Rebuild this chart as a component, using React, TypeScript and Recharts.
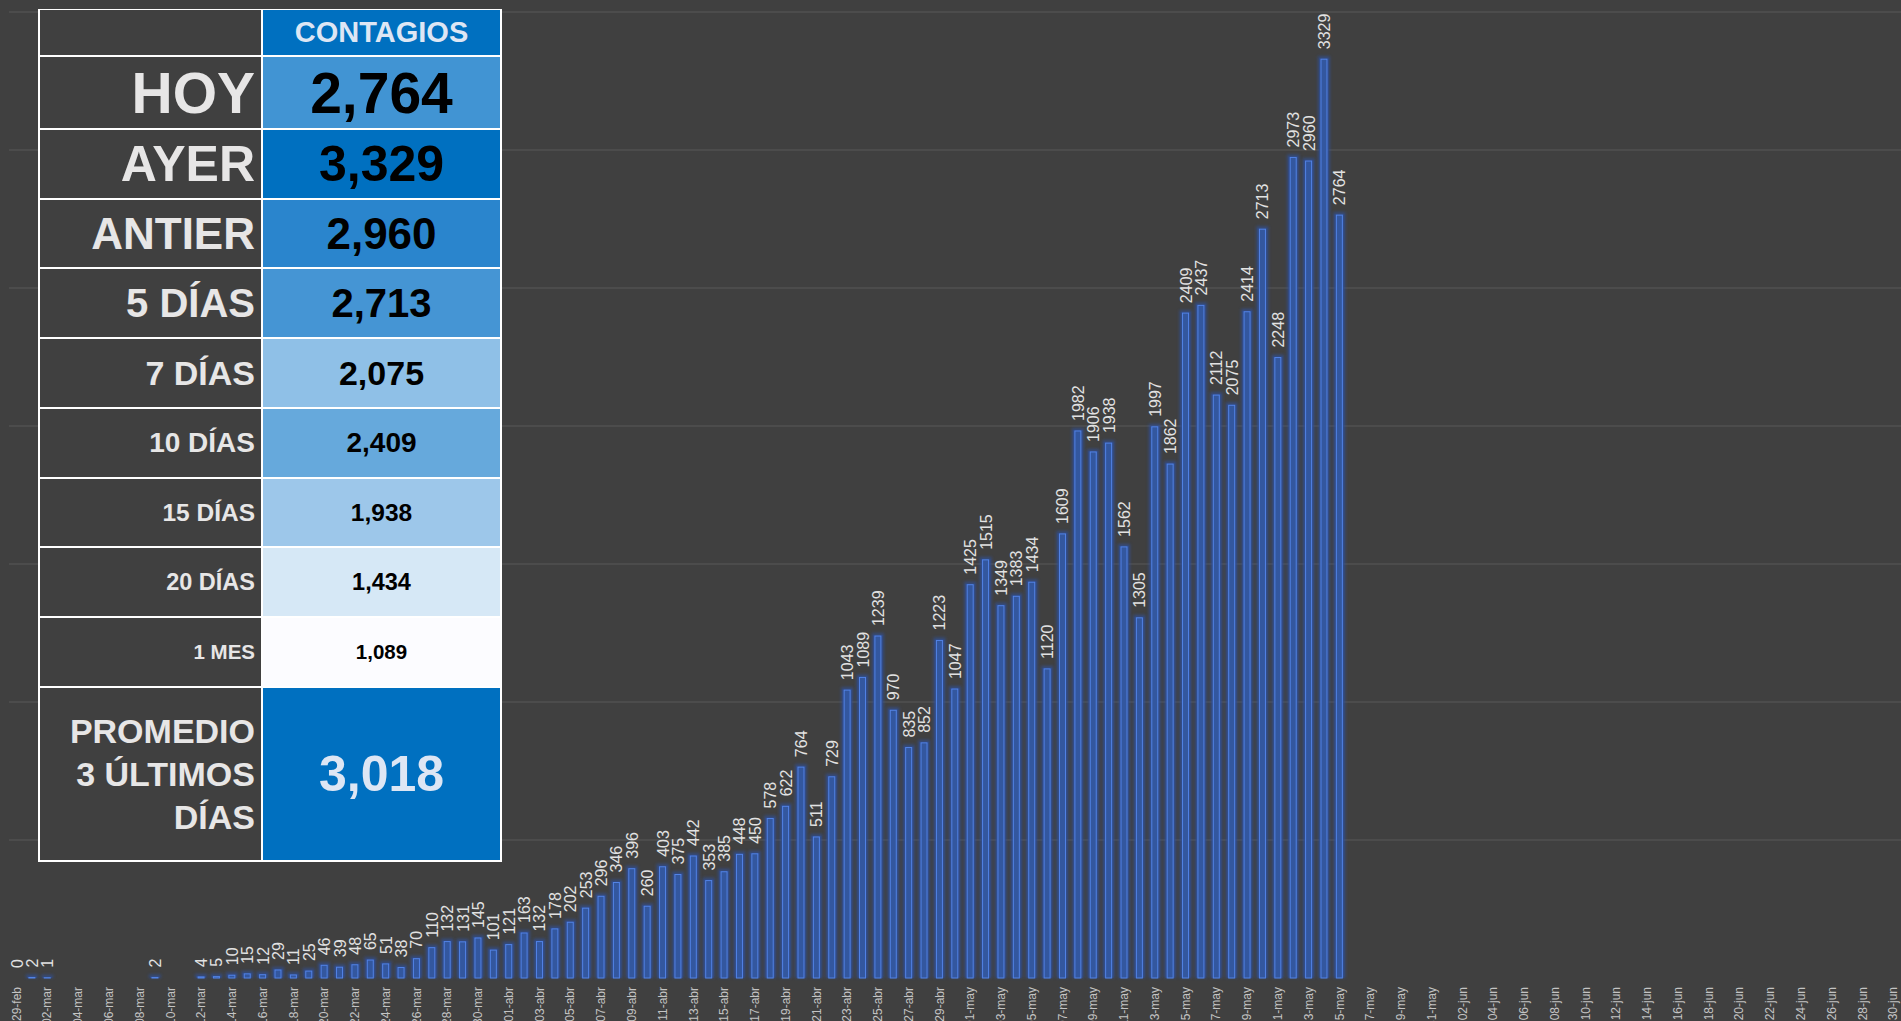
import React from 'react'
import { BarChart, Bar, XAxis, YAxis, CartesianGrid, LabelList } from 'recharts'

// fechas: 29-feb .. 30-jun
const MONTHS = ['feb', 'mar', 'abr', 'may', 'jun']
const FIRST_DAY = [29, 1, 1, 1, 1]
const LAST_DAY = [29, 31, 30, 31, 30]

const DATES: string[] = []
MONTHS.forEach((m, i) => {
  for (let d = FIRST_DAY[i]; d <= LAST_DAY[i]; d++) {
    DATES.push(`${String(d).padStart(2, '0')}-${m}`)
  }
})

// contagios diarios (null = sin dato)
const CASES: (number | null)[] = [
  0, // 29-feb
  2, 1, null, null, null, null, null, null, 2, null, null, 4, 5, 10, 15, 12, 29, 11, 25, 46,
  39, 48, 65, 51, 38, 70, 110, 132, 131, 145, 101, // marzo
  121, 163, 132, 178, 202, 253, 296, 346, 396, 260, 403, 375, 442, 353, 385, 448, 450, 578,
  622, 764, 511, 729, 1043, 1089, 1239, 970, 835, 852, 1223, 1047, // abril
  1425, 1515, 1349, 1383, 1434, 1120, 1609, 1982, 1906, 1938, 1562, 1305, 1997, 1862, 2409,
  2437, 2112, 2075, 2414, 2713, 2248, 2973, 2960, 3329, 2764, // mayo
]

const Y_MAX = 3500
const GRID_TICKS = [500, 1000, 1500, 2000, 2500, 3000, 3500]

const TABLE_HEADER = 'CONTAGIOS'
const TABLE_LABELS = ['HOY', 'AYER', 'ANTIER', '5 DÍAS', '7 DÍAS', '10 DÍAS', '15 DÍAS', '20 DÍAS', '1 MES']
const TABLE_VALUES = ['2,764', '3,329', '2,960', '2,713', '2,075', '2,409', '1,938', '1,434', '1,089']
const AVERAGE_LABEL = ['PROMEDIO', '3 ÚLTIMOS', 'DÍAS']
const AVERAGE_VALUE = '3,018'

const data = DATES.map((date, i) => ({ date, casos: i < CASES.length ? CASES[i] : null }))

// estilos de la tabla
const ROW_EDGES = [0, 47, 120, 190, 259, 329, 399, 469, 538, 608, 678, 852]
const CELL_BG = ['#0070c0', '#4194d3', '#0070c0', '#2a85cd', '#4595d4', '#8fc0e7', '#66a9dc', '#9dc7ea', '#d6e8f6', '#fcfcff', '#0070c0']
const LABEL_SIZE = [29, 57, 50, 44, 40, 34, 28, 24.5, 23.5, 20.5, 34]
const VALUE_SIZE = [29, 57, 50, 44, 40, 34, 28, 24.5, 23.5, 20.5, 50]
const FONT = '"Liberation Sans", Arial, sans-serif'
const BG = '#404040'

const BarShape = (props: any) => {
  const { x, y, width, height } = props
  if (!height || height <= 0) return null
  const cx = x + width / 2
  return (
    <g>
      <rect x={cx - 6} y={y - 3} width={12} height={height + 3} fill="#2d52a6" opacity={0.6} filter="url(#barGlow)" />
      <rect x={cx - 5} y={y - 1} width={10} height={height + 1} fill="#2f4f96" opacity={0.55} />
      <rect x={cx - 3} y={y} width={6} height={height} fill="#33579f" stroke="#5283e6" strokeWidth={1} />
    </g>
  )
}

const BarLabel = (props: any) => {
  const { x, y, width, value } = props
  if (value === null || value === undefined) return null
  const lx = x + width / 2 + 6
  const ly = y - 10
  return (
    <text
      x={lx}
      y={ly}
      transform={`rotate(-90 ${lx} ${ly})`}
      textAnchor="start"
      fill="#e2e2e2"
      fontSize={16}
      fontFamily={FONT}
    >
      {value}
    </text>
  )
}

const DateTick = (props: any) => {
  const { x, y, payload } = props
  const tx = x + 4
  const ty = y + 9
  return (
    <text
      x={tx}
      y={ty}
      transform={`rotate(-90 ${tx} ${ty})`}
      textAnchor="end"
      fill="#c4c4c4"
      fontSize={12}
      fontFamily={FONT}
    >
      {payload.value}
    </text>
  )
}

function Cell({ row, right }: { row: number; right: boolean }) {
  const top = ROW_EDGES[row] + 1
  const height = ROW_EDGES[row + 1] - ROW_EDGES[row] - 2
  const isHeader = row === 0
  const isAverage = row === ROW_EDGES.length - 2
  let content: React.ReactNode = null
  if (right) {
    content = isHeader ? TABLE_HEADER : isAverage ? AVERAGE_VALUE : TABLE_VALUES[row - 1]
  } else if (!isHeader) {
    content = isAverage
      ? AVERAGE_LABEL.map((l) => <div key={l}>{l}</div>)
      : TABLE_LABELS[row - 1]
  }
  const light = isHeader || isAverage
  return (
    <div
      style={{
        position: 'absolute',
        top,
        height,
        left: right ? 225 : 2,
        width: right ? 237 : 221,
        background: right ? CELL_BG[row] : BG,
        display: 'flex',
        flexDirection: 'column',
        alignItems: right ? 'center' : 'flex-end',
        justifyContent: 'center',
        paddingRight: right ? 0 : 6,
        boxSizing: 'border-box',
        fontFamily: FONT,
        fontWeight: 'bold',
        fontSize: right ? VALUE_SIZE[row] : LABEL_SIZE[row],
        lineHeight: isAverage && !right ? '43px' : 'normal',
        textAlign: right ? 'center' : 'right',
        color: right ? (light ? '#dde6f4' : '#000000') : '#e7e6e6',
        whiteSpace: 'nowrap',
      }}
    >
      {content}
    </div>
  )
}

// lineas de cuadricula solo en 500..3500 (sin linea en 0)
const gridRows = (props: any) => {
  const { offset } = props
  return GRID_TICKS.map((t) => offset.top + offset.height * (1 - t / Y_MAX))
}

export default function App() {
  const rows = ROW_EDGES.slice(0, -1).map((_, i) => i)
  return (
    <div
      style={{
        position: 'fixed',
        left: 0,
        top: 0,
        width: 1901,
        height: 1021,
        overflow: 'hidden',
        background: BG,
      }}
    >
      <svg width={0} height={0} style={{ position: 'absolute' }}>
        <defs>
          <filter id="barGlow" filterUnits="userSpaceOnUse" x={0} y={0} width={1901} height={1100}>
            <feGaussianBlur stdDeviation={1.8} />
          </filter>
        </defs>
      </svg>
      <BarChart
        width={1901}
        height={1060}
        data={data}
        margin={{ top: 12, right: 0, bottom: 0, left: 9 }}
        barCategoryGap={0}
      >
        <CartesianGrid
          horizontal
          vertical={false}
          stroke="#585858"
          strokeWidth={1}
          horizontalCoordinatesGenerator={gridRows}
        />
        <YAxis domain={[0, Y_MAX]} ticks={GRID_TICKS} width={0} tick={false} axisLine={false} tickLine={false} />
        <XAxis
          dataKey="date"
          interval={1}
          height={82}
          tick={<DateTick />}
          tickLine={false}
          axisLine={false}
          tickSize={0}
          tickMargin={0}
        />
        <Bar dataKey="casos" shape={<BarShape />} isAnimationActive={false}>
          <LabelList dataKey="casos" content={<BarLabel />} />
        </Bar>
      </BarChart>
      <div
        style={{
          position: 'absolute',
          left: 38,
          top: 9,
          width: 464,
          height: 853,
          background: '#ffffff',
        }}
      >
        {rows.map((r) => (
          <React.Fragment key={r}>
            <Cell row={r} right={false} />
            <Cell row={r} right />
          </React.Fragment>
        ))}
      </div>
    </div>
  )
}
